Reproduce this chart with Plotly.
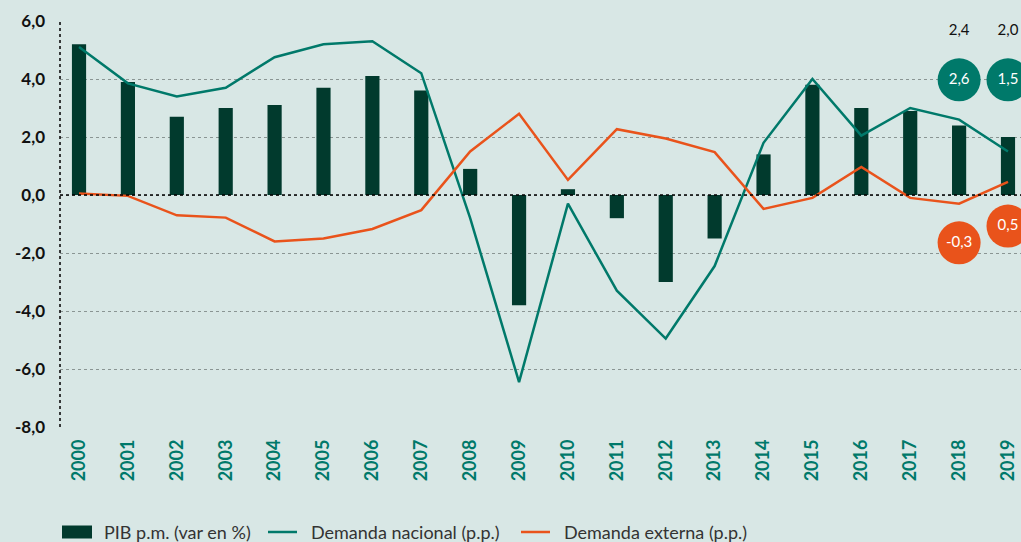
import plotly.graph_objects as go

years = list(range(2000, 2020))
pib = [5.2, 3.9, 2.7, 3.0, 3.1, 3.7, 4.1, 3.6, 0.9, -3.8, 0.2, -0.8, -3.0, -1.5, 1.4, 3.8, 3.0, 2.9, 2.4, 2.0]
dem_nacional = [5.1, 3.85, 3.4, 3.7, 4.75, 5.2, 5.3, 4.2, -0.8, -6.45, -0.3, -3.3, -4.95, -2.45, 1.8, 4.0, 2.05, 3.0, 2.6, 1.5]
dem_externa = [0.05, -0.03, -0.7, -0.78, -1.6, -1.5, -1.17, -0.52, 1.5, 2.8, 0.52, 2.27, 1.95, 1.48, -0.48, -0.1, 0.97, -0.1, -0.3, 0.45]

y_ticks = [-8, -6, -4, -2, 0, 2, 4, 6]
y_ticktext = ["-8,0", "-6,0", "-4,0", "-2,0", "0,0", "2,0", "4,0", "6,0"]

# Highlighted values for last two years
hl_years = [2018, 2019]
hl_pib_text = ["2,4", "2,0"]
hl_nac_text = ["2,6", "1,5"]
hl_ext_text = ["-0,3", "0,5"]
hl_pib_y = [5.65, 5.65]
hl_nac_y = [3.97, 3.97]
hl_ext_y = [-1.65, -1.07]

names = ["PIB p.m. (var en %)", "Demanda nacional (p.p.)", "Demanda externa (p.p.)"]

BG = "#d8e7e5"
DARK = "#013a2d"
TEAL = "#00796a"
ORANGE = "#e9531b"
FONT = "Lato"

fig = go.Figure()
fig.add_trace(go.Bar(x=years, y=pib, width=0.29, marker_color=DARK, marker_line_width=0, name=names[0]))
fig.add_trace(go.Scatter(x=years, y=dem_nacional, mode="lines", line=dict(color=TEAL, width=2.5), name=names[1]))
fig.add_trace(go.Scatter(x=years, y=dem_externa, mode="lines", line=dict(color=ORANGE, width=2.5), name=names[2]))

# circles
fig.add_trace(go.Scatter(x=hl_years, y=hl_nac_y, mode="markers+text", text=hl_nac_text,
                         marker=dict(size=43, color=TEAL, line_width=0),
                         textfont=dict(color="white", size=15, family=FONT),
                         textposition="middle center", showlegend=False, cliponaxis=False, hoverinfo="skip"))
fig.add_trace(go.Scatter(x=hl_years, y=hl_ext_y, mode="markers+text", text=hl_ext_text,
                         marker=dict(size=43, color=ORANGE, line_width=0),
                         textfont=dict(color="white", size=15, family=FONT),
                         textposition="middle center", showlegend=False, cliponaxis=False, hoverinfo="skip"))
fig.add_trace(go.Scatter(x=hl_years, y=hl_pib_y, mode="text", text=hl_pib_text,
                         textfont=dict(color="#111", size=15, family=FONT),
                         textposition="middle center", showlegend=False, cliponaxis=False, hoverinfo="skip"))

# zero line and y axis line (dotted)
fig.add_shape(type="line", xref="paper", yref="y", x0=0, x1=1, y0=0, y1=0,
              line=dict(color="black", width=1.5, dash="dot"), layer="above")
fig.add_shape(type="line", xref="paper", yref="y", x0=0, x1=0, y0=-8, y1=6,
              line=dict(color="black", width=1.5, dash="dot"), layer="above")

# manual legend (plot area: 961 px wide, 406 px tall)
PW, PH = 961.0, 406.0
ly = -105 / PH
def px(v):
    return v / PW
fig.add_shape(type="rect", xref="paper", yref="paper", x0=px(2), x1=px(32),
              y0=ly - 6.5 / PH, y1=ly + 6.5 / PH, fillcolor=DARK, line_width=0)
fig.add_shape(type="line", xref="paper", yref="paper", x0=px(208), x1=px(237), y0=ly, y1=ly,
              line=dict(color=TEAL, width=2.5))
fig.add_shape(type="line", xref="paper", yref="paper", x0=px(461), x1=px(490), y0=ly, y1=ly,
              line=dict(color=ORANGE, width=2.5))
for xpos, name in zip([42, 249, 502], names):
    fig.add_annotation(xref="paper", yref="paper", x=px(xpos), y=ly, text=name, showarrow=False,
                       xanchor="left", yanchor="middle", font=dict(size=18, color="#333", family=FONT))

fig.update_layout(
    width=1021, height=542,
    paper_bgcolor=BG, plot_bgcolor=BG,
    margin=dict(l=60, r=0, t=21, b=115),
    font=dict(family=FONT, color="#222"),
    showlegend=False,
)
fig.update_xaxes(range=[1999.611, 2019.266], tickvals=years, ticktext=[str(y) for y in years],
                 tickangle=-90, tickfont=dict(color=TEAL, size=18, family=FONT, weight="bold"),
                 showgrid=False, zeroline=False, showline=False, ticks="", ticklabelstandoff=8)
fig.update_yaxes(range=[-8, 6], tickvals=y_ticks, ticktext=y_ticktext,
                 tickfont=dict(color="#111", size=17, family=FONT, weight="bold"),
                 showgrid=True, gridcolor="#8a9593", griddash="dot", gridwidth=1,
                 zeroline=False, showline=False, ticks="", ticklabelstandoff=14)

fig.write_html("out.html", config={"displayModeBar": False},
               post_script="document.body.style.margin='0';document.body.style.overflow='hidden';")
